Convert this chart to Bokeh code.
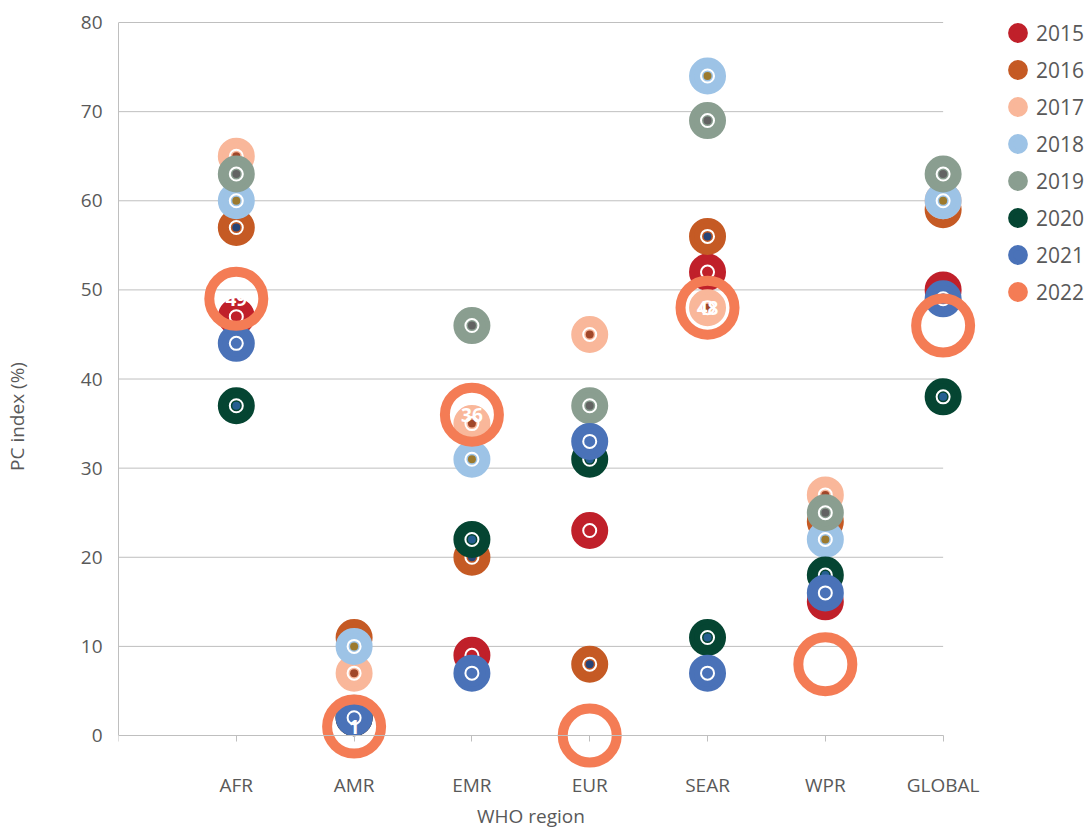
from bokeh.plotting import figure
from bokeh.models import Range1d, FixedTicker, Legend, LegendItem, ColumnDataSource, LinearAxis
from bokeh.core.properties import value
from bokeh.embed import file_html
from bokeh.resources import INLINE

# ---- data ----
regions = ["AFR", "AMR", "EMR", "EUR", "SEAR", "WPR", "GLOBAL"]
years = ["2015", "2016", "2017", "2018", "2019", "2020", "2021", "2022"]
v2015 = [47, 2, 9, 23, 52, 15, 50]
v2016 = [57, 11, 20, 8, 56, 24, 59]
v2017 = [65, 7, 35, 45, 48, 27, 60]
v2018 = [60, 10, 31, float("nan"), 74, 22, 60]
v2019 = [63, 2.5, 46, 37, 69, 25, 63]
v2020 = [37, 2, 22, 31, 11, 18, 38]
v2021 = [44, 2, 7, 33, 7, 16, 49]
v2022 = [49, 1, 36, 0, 48, 8, 46]
series = [v2015, v2016, v2017, v2018, v2019, v2020, v2021]
y_ticks = [0, 10, 20, 30, 40, 50, 60, 70, 80]

colors = ["#C0202A", "#C55A24", "#F9B79A", "#9DC3E6", "#8A9E90", "#054532", "#4A72B8", "#F47C55"]
dot_colors = [None, "#264478", "#A0472A", "#9C7A2E", "#636363", "#255E91", None]

GRAY = "#595959"
LINE = "#BFBFBF"
FONT = "Open Sans"

xpos = list(range(1, len(regions) + 1))
n = len(regions)

p = figure(frame_width=968, frame_height=832, x_axis_location=None,
           x_range=Range1d(0, 8.217), y_range=Range1d(-10.88, 82.47),
           output_backend="svg", toolbar_location=None,
           min_border_left=118, min_border_right=0, min_border_top=0, min_border_bottom=0)
p.outline_line_color = None
p.background_fill_color = "white"
p.border_fill_color = "white"
p.xgrid.visible = False
p.ygrid.visible = False

# gridlines (only across the category span)
grid_vals = y_ticks[1:]
p.segment(x0=[0] * len(grid_vals), x1=[n] * len(grid_vals),
          y0=grid_vals, y1=grid_vals, line_color=LINE, line_width=1)

overrides = {0: ""}
for i, r in enumerate(regions):
    overrides[i + 1] = r

# x axis drawn at y = 0
fx = LinearAxis(fixed_location=0, bounds=(0, n), ticker=FixedTicker(ticks=list(range(0, n + 1))))
fx.major_label_overrides = overrides
fx.axis_line_color = LINE
fx.major_tick_line_color = LINE
fx.major_tick_out = 6
fx.major_tick_in = 0
fx.minor_tick_line_color = None
fx.major_label_standoff = 30
fx.major_label_text_font = FONT
fx.major_label_text_font_size = "19px"
fx.major_label_text_color = GRAY
fx.axis_label = "WHO region"
fx.axis_label_text_font = FONT
fx.axis_label_text_font_size = "19px"
fx.axis_label_text_color = GRAY
fx.axis_label_text_font_style = "normal"
fx.axis_label_standoff = 2
p.add_layout(fx, "below")

ya = p.yaxis[0]
ya.bounds = (0, 80)
ya.ticker = FixedTicker(ticks=y_ticks)
ya.axis_line_color = LINE
ya.major_tick_line_color = None
ya.major_tick_out = 0
ya.minor_tick_line_color = None
ya.major_label_standoff = 16
ya.major_label_text_font = FONT
ya.major_label_text_font_size = "19px"
ya.major_label_text_color = GRAY
ya.axis_label = "PC index (%)"
ya.axis_label_text_font = FONT
ya.axis_label_text_font_size = "19px"
ya.axis_label_text_color = GRAY
ya.axis_label_text_font_style = "normal"
ya.axis_label_standoff = 48

src22 = ColumnDataSource(dict(x=xpos, y=v2022, t=[str(v) for v in v2022]))
r22 = p.scatter("x", "y", source=src22, size=0, fill_color=colors[7], line_color=colors[7], line_width=5)

legend_items = []
for i, vals in enumerate(series):
    src = ColumnDataSource(dict(x=xpos, y=vals))
    r = p.scatter("x", "y", source=src, size=32, fill_color=colors[i], line_color=colors[i], line_width=5)
    p.scatter("x", "y", source=src, size=13, fill_color=None, line_color="white", line_width=2)
    if dot_colors[i] is not None:
        p.scatter("x", "y", source=src, size=8, fill_color=dot_colors[i], line_color=None)
    legend_items.append(LegendItem(label=years[i], renderers=[r]))

p.scatter("x", "y", source=src22, size=54, fill_color=None, line_color=colors[7], line_width=10)
p.text("x", "y", text="t", source=src22, text_color="white", text_align="center",
       text_baseline="middle", text_font=value(FONT), text_font_size="19px", text_font_style="bold")
legend_items.append(LegendItem(label=years[7], renderers=[r22]))

legend = Legend(items=legend_items, location=(881, 522), orientation="vertical",
                glyph_width=37, glyph_height=37, spacing=0, label_standoff=0,
                padding=0, margin=0, border_line_color=None, background_fill_alpha=0,
                label_text_font=FONT, label_text_font_size="21px", label_text_color=GRAY)
p.add_layout(legend)

open("out.html", "w").write(file_html(p, INLINE))
